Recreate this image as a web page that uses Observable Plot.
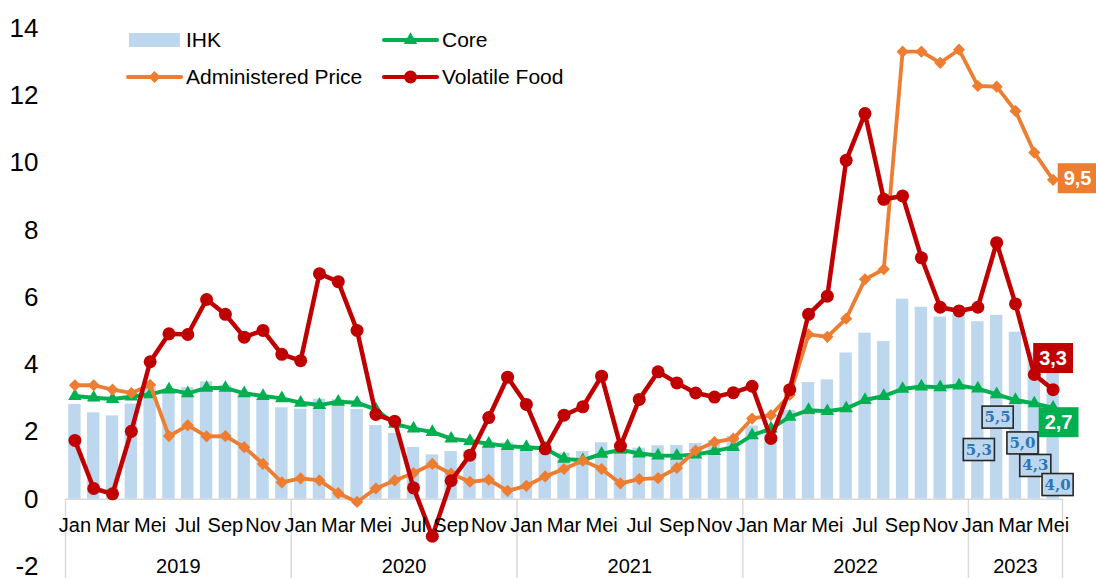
<!DOCTYPE html>
<html>
<head>
<meta charset="utf-8">
<script src="https://cdn.jsdelivr.net/npm/d3@7"></script>
<script src="https://cdn.jsdelivr.net/npm/@observablehq/plot@0.6"></script>
<style>
  body { margin: 0; background: #fff; }
  #wrap { position: relative; width: 1096px; height: 578px; overflow: hidden; background: #fff; }
  #legend { position: absolute; left: 0; top: 0; pointer-events: none; }
</style>
</head>
<body>
<div id="wrap"></div>
<script>
// ---------- data ----------
const monthNames = ["Jan","Feb","Mar","Apr","Mei","Jun","Jul","Agu","Sep","Okt","Nov","Des"];
const years = [2019, 2020, 2021, 2022, 2023];
const yTicks = [-2, 0, 2, 4, 6, 8, 10, 12, 14];

// IHK (headline), % yoy
const ihk = [
  2.82, 2.57, 2.48, 2.83, 3.32, 3.28, 3.32, 3.49, 3.39, 3.13, 3.00, 2.72,
  2.68, 2.98, 2.96, 2.67, 2.19, 1.96, 1.54, 1.32, 1.42, 1.44, 1.59, 1.68,
  1.55, 1.38, 1.37, 1.42, 1.68, 1.33, 1.52, 1.59, 1.60, 1.66, 1.75, 1.87,
  2.18, 2.06, 2.64, 3.47, 3.55, 4.35, 4.94, 4.69, 5.95, 5.71, 5.42, 5.51,
  5.28, 5.47, 4.97, 4.33, 4.00
];
// Core
const core = [
  3.07, 3.02, 2.98, 3.05, 3.12, 3.26, 3.15, 3.31, 3.31, 3.15, 3.07, 3.00,
  2.87, 2.80, 2.90, 2.87, 2.67, 2.24, 2.10, 2.00, 1.80, 1.73, 1.65, 1.58,
  1.55, 1.51, 1.20, 1.16, 1.35, 1.47, 1.36, 1.30, 1.29, 1.33, 1.43, 1.55,
  1.90, 2.10, 2.45, 2.65, 2.62, 2.70, 2.95, 3.07, 3.28, 3.35, 3.33, 3.38,
  3.29, 3.12, 2.95, 2.85, 2.72
];
// Administered Price
const administered = [
  3.39, 3.39, 3.26, 3.16, 3.40, 1.88, 2.20, 1.87, 1.88, 1.55, 1.05, 0.50,
  0.62, 0.56, 0.18, -0.08, 0.32, 0.56, 0.78, 1.05, 0.76, 0.52, 0.58, 0.25,
  0.40, 0.68, 0.90, 1.15, 0.90, 0.47, 0.60, 0.63, 0.93, 1.45, 1.70, 1.80,
  2.40, 2.50, 3.10, 4.90, 4.83, 5.37, 6.54, 6.84, 13.31, 13.31, 12.98, 13.37,
  12.29, 12.27, 11.55, 10.31, 9.50
];
// Volatile Food
const volatileFood = [
  1.75, 0.32, 0.16, 2.02, 4.09, 4.92, 4.90, 5.94, 5.50, 4.82, 5.02, 4.31,
  4.12, 6.71, 6.47, 5.02, 2.52, 2.32, 0.34, -1.10, 0.55, 1.31, 2.43, 3.63,
  2.82, 1.50, 2.50, 2.75, 3.66, 1.58, 2.97, 3.79, 3.46, 3.16, 3.04, 3.17,
  3.36, 1.81, 3.26, 5.50, 6.04, 10.08, 11.47, 8.92, 9.02, 7.18, 5.71, 5.60,
  5.71, 7.63, 5.81, 3.71, 3.26
];

// label offsets (pixels) for the IHK data labels of 2023 months (dx, dy)
const ihkLabelOffsets = [[1, 128], [1, 102], [7, 111], [1, 112], [4.5, 120]];

// ---------- derived table ----------
const n = ihk.length;
const data = ihk.map((v, i) => ({
  i, month: monthNames[i % 12], year: years[Math.floor(i / 12)],
  ihk: v, core: core[i], ap: administered[i], vf: volatileFood[i]
}));
const fmt = v => d3.format(".1f")(v).replace(".", ",");
const separators = [...years.map((y, k) => k * 12 - 0.5), n - 0.5];
const yearMids = years.map((y, k) => (k * 12 + Math.min(k * 12 + 11, n - 1)) / 2);
const monthTicks = data.filter(d => (d.i % 12) % 2 === 0).map(d => d.i);
const last = data[n - 1];
const ihkLabelData = data.slice(n - ihkLabelOffsets.length);

const C = { ihk: "#BDD7EE", core: "#00B050", ap: "#ED7D31", vf: "#C00000", grid: "#D9D9D9" };
const narrow = "'Liberation Sans Narrow','Arial Narrow','Liberation Sans',Arial,sans-serif";
const sans = "'Liberation Sans',Arial,sans-serif";

const chart = Plot.plot({
  width: 1096, height: 578,
  marginLeft: 65, marginRight: 34, marginTop: 28, marginBottom: 12,
  x: { type: "linear", domain: [-0.5, n - 0.5], axis: null },
  y: { domain: [-2, 14], axis: null },
  style: { fontFamily: narrow, background: "#fff", overflow: "visible", color: "#000" },
  marks: [
    Plot.rect(data, { x1: d => d.i - 0.33, x2: d => d.i + 0.33, y1: 0, y2: "ihk", fill: C.ihk }),
    Plot.ruleY([0], { x1: -0.5, x2: n - 0.5, stroke: C.grid, strokeWidth: 1.5 }),
    Plot.ruleX(separators, { y1: 0, y2: -2.4, stroke: C.grid, strokeWidth: 1.5 }),
    Plot.line(data, { x: "i", y: "core", stroke: C.core, strokeWidth: 4 }),
    Plot.dot(data, { x: "i", y: "core", symbol: "triangle", r: 5, fill: C.core }),
    Plot.line(data, { x: "i", y: "ap", stroke: C.ap, strokeWidth: 3.8 }),
    Plot.dot(data, { x: "i", y: "ap", symbol: "diamond2", r: 5.5, fill: C.ap }),
    Plot.line(data, { x: "i", y: "vf", stroke: C.vf, strokeWidth: 4.5 }),
    Plot.dot(data, { x: "i", y: "vf", r: 6.5, fill: C.vf }),
    Plot.axisY({ ticks: yTicks, tickSize: 0, tickPadding: 27, fontSize: 26, label: null,
                 tickFormat: d => String(d), fontFamily: narrow, fill: "#000" }),
    Plot.axisX({ ticks: monthTicks, tickFormat: i => monthNames[i % 12], tickSize: 0, tickPadding: 0,
                 dy: -49, fontSize: 20, label: null, fontFamily: narrow, fill: "#000" }),
    Plot.axisX({ ticks: yearMids, tickFormat: v => String(years[yearMids.indexOf(v)]), tickSize: 0,
                 tickPadding: 0, dy: -8, fontSize: 20, label: null, fontFamily: narrow, fill: "#000" }),
    // end-of-series value labels
    Plot.text([last], { x: "i", y: "ap", text: d => fmt(d.ap), dx: 24.5, dy: -1, fill: "#fff",
                        fontWeight: "bold", fontSize: 20, fontFamily: sans, ariaDescription: "label-ap" }),
    Plot.text([last], { x: "i", y: "vf", text: d => fmt(d.vf), dx: 0, dy: -31, fill: "#fff",
                        fontWeight: "bold", fontSize: 20, fontFamily: sans, ariaDescription: "label-vf" }),
    Plot.text([last], { x: "i", y: "core", text: d => fmt(d.core), dx: 5.5, dy: 15, fill: "#fff",
                        fontWeight: "bold", fontSize: 20, fontFamily: sans, ariaDescription: "label-core" }),
    // IHK data labels for 2023
    ...ihkLabelData.map((d, k) => Plot.text([d], {
      x: "i", y: "ihk", text: e => fmt(e.ihk), dx: ihkLabelOffsets[k][0], dy: ihkLabelOffsets[k][1],
      fill: "#2E75B6", fontWeight: "bold", fontSize: 15, fontFamily: "'DejaVu Serif',Georgia,serif",
      ariaDescription: "label-ihk"
    }))
  ]
});

const wrap = document.getElementById("wrap");
wrap.append(chart);

// draw boxes behind the labels
const NS = "http://www.w3.org/2000/svg";
function boxify(label, fill, stroke, px, py) {
  chart.querySelectorAll(`g[aria-description="${label}"] text`).forEach(t => {
    const b = t.getBBox();
    const r = document.createElementNS(NS, "rect");
    r.setAttribute("x", b.x - px);
    r.setAttribute("y", b.y - py);
    r.setAttribute("width", b.width + 2 * px);
    r.setAttribute("height", b.height + 2 * py);
    r.setAttribute("fill", fill);
    if (stroke) { r.setAttribute("stroke", stroke); r.setAttribute("stroke-width", 1.6); }
    if (t.getAttribute("transform")) r.setAttribute("transform", t.getAttribute("transform"));
    t.parentNode.insertBefore(r, t);
  });
}
boxify("label-ap", C.ap, null, 6, 4);
boxify("label-vf", C.vf, null, 6, 4);
boxify("label-core", C.core, null, 6, 4);
boxify("label-ihk", C.ihk, "#262626", 2.5, 2);

// legend overlay (inside the plot area, top-left)
const legendItems = [
  { name: "IHK", kind: "bar", color: C.ihk, x: 126, y: 40 },
  { name: "Core", kind: "triangle", color: C.core, x: 382, y: 40 },
  { name: "Administered Price", kind: "diamond", color: C.ap, x: 126, y: 77 },
  { name: "Volatile Food", kind: "circle", color: C.vf, x: 382, y: 77 }
];
const lg = d3.select(wrap).append("svg").attr("id", "legend").attr("width", 1096).attr("height", 578);
legendItems.forEach(it => {
  const g = lg.append("g").attr("transform", `translate(${it.x},${it.y})`);
  if (it.kind === "bar") {
    g.append("rect").attr("x", 3).attr("y", -7).attr("width", 51).attr("height", 14).attr("fill", it.color);
  } else {
    g.append("line").attr("x1", 2).attr("x2", 55).attr("y1", 0).attr("y2", 0)
      .attr("stroke", it.color).attr("stroke-width", 4).attr("stroke-linecap", "round");
    const sym = it.kind === "triangle" ? d3.symbolTriangle : it.kind === "diamond" ? d3.symbolDiamond2 : d3.symbolCircle;
    const size = it.kind === "circle" ? Math.PI * 6.5 * 6.5 : it.kind === "diamond" ? Math.PI * 5.5 * 5.5 : Math.PI * 25;
    g.append("path").attr("d", d3.symbol(sym, size)()).attr("transform", "translate(28.5,0)").attr("fill", it.color);
  }
  g.append("text").attr("x", 60).attr("y", 0).attr("dy", "0.35em")
    .attr("font-family", sans).attr("font-size", 21).attr("fill", "#000").text(it.name);
});
</script>
</body>
</html>
